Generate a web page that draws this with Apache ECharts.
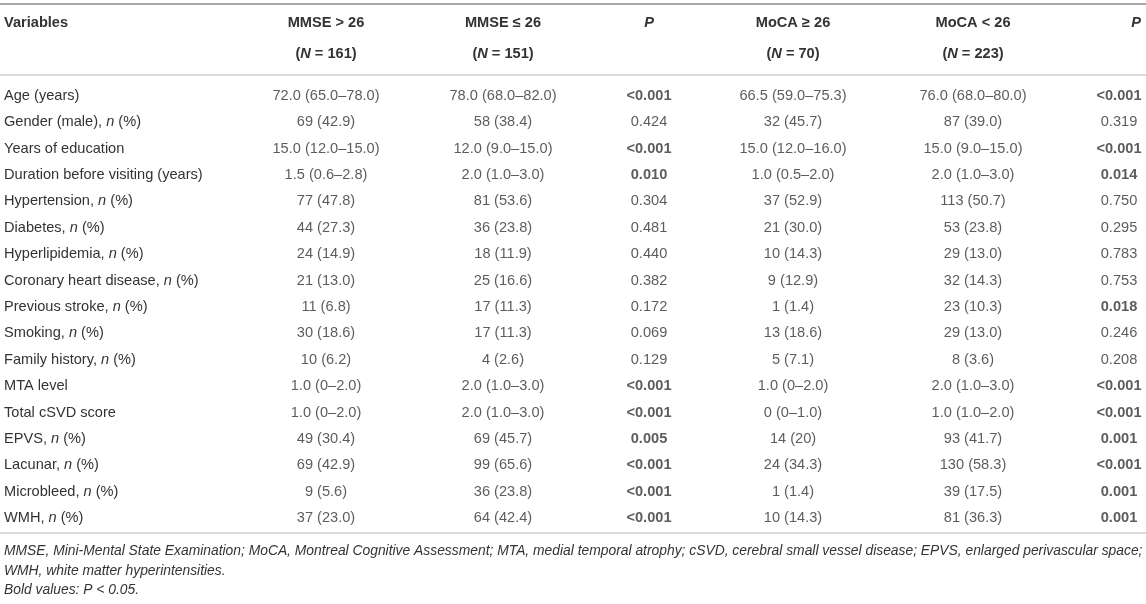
<!DOCTYPE html>
<html>
<head>
<meta charset="utf-8">
<script src="https://cdn.jsdelivr.net/npm/echarts@6/dist/echarts.min.js"></script>
<style>
  html, body { margin: 0; padding: 0; background: #fff; }
  #table { width: 1146px; height: 604px; }
</style>
</head>
<body>
<div id="table"></div>
<script type="text/javascript">
// row labels
var variables = [
  'Age (years)', 'Gender (male), n (%)', 'Years of education', 'Duration before visiting (years)',
  'Hypertension, n (%)', 'Diabetes, n (%)', 'Hyperlipidemia, n (%)', 'Coronary heart disease, n (%)',
  'Previous stroke, n (%)', 'Smoking, n (%)', 'Family history, n (%)', 'MTA level',
  'Total cSVD score', 'EPVS, n (%)', 'Lacunar, n (%)', 'Microbleed, n (%)', 'WMH, n (%)'
];
// column headers
var groupNames = ['MMSE > 26', 'MMSE \u2264 26', 'P', 'MoCA \u2265 26', 'MoCA < 26', 'P'];
var groupN = ['161', '151', '', '70', '223', ''];

var mmseHigh = ['72.0 (65.0–78.0)', '69 (42.9)', '15.0 (12.0–15.0)', '1.5 (0.6–2.8)', '77 (47.8)', '44 (27.3)',
  '24 (14.9)', '21 (13.0)', '11 (6.8)', '30 (18.6)', '10 (6.2)', '1.0 (0–2.0)', '1.0 (0–2.0)',
  '49 (30.4)', '69 (42.9)', '9 (5.6)', '37 (23.0)'];
var mmseLow = ['78.0 (68.0–82.0)', '58 (38.4)', '12.0 (9.0–15.0)', '2.0 (1.0–3.0)', '81 (53.6)', '36 (23.8)',
  '18 (11.9)', '25 (16.6)', '17 (11.3)', '17 (11.3)', '4 (2.6)', '2.0 (1.0–3.0)', '2.0 (1.0–3.0)',
  '69 (45.7)', '99 (65.6)', '36 (23.8)', '64 (42.4)'];
var pMmse = ['<0.001', '0.424', '<0.001', '0.010', '0.304', '0.481', '0.440', '0.382', '0.172',
  '0.069', '0.129', '<0.001', '<0.001', '0.005', '<0.001', '<0.001', '<0.001'];
var mocaHigh = ['66.5 (59.0–75.3)', '32 (45.7)', '15.0 (12.0–16.0)', '1.0 (0.5–2.0)', '37 (52.9)', '21 (30.0)',
  '10 (14.3)', '9 (12.9)', '1 (1.4)', '13 (18.6)', '5 (7.1)', '1.0 (0–2.0)', '0 (0–1.0)',
  '14 (20)', '24 (34.3)', '1 (1.4)', '10 (14.3)'];
var mocaLow = ['76.0 (68.0–80.0)', '87 (39.0)', '15.0 (9.0–15.0)', '2.0 (1.0–3.0)', '113 (50.7)', '53 (23.8)',
  '29 (13.0)', '32 (14.3)', '23 (10.3)', '29 (13.0)', '8 (3.6)', '2.0 (1.0–3.0)', '1.0 (1.0–2.0)',
  '93 (41.7)', '130 (58.3)', '39 (17.5)', '81 (36.3)'];
var pMoca = ['<0.001', '0.319', '<0.001', '0.014', '0.750', '0.295', '0.783', '0.753', '0.018',
  '0.246', '0.208', '<0.001', '<0.001', '0.001', '<0.001', '0.001', '0.001'];

var footnotes = [
  'MMSE, Mini-Mental State Examination; MoCA, Montreal Cognitive Assessment; MTA, medial temporal atrophy; cSVD, cerebral small vessel disease; EPVS, enlarged perivascular space;',
  'WMH, white matter hyperintensities.',
  'Bold values: P < 0.05.'
];

// layout
var colX = [326, 503, 649, 793, 973, 1119];
var FONT = 'Liberation Sans, Arial, Helvetica, sans-serif';
var FS = 14.6;
var INK = '#333';

var columns = [mmseHigh, mmseLow, pMmse, mocaHigh, mocaLow, pMoca];
var isP = [false, false, true, false, false, true];

function significant(p) {
  if (p.charAt(0) === '<') return true;
  return parseFloat(p) < 0.05;
}

var series = columns.map(function (col, k) {
  return {
    type: 'scatter',
    silent: true,
    symbolSize: 1,
    itemStyle: { color: 'transparent' },
    label: {
      show: true,
      position: 'inside',
      formatter: '{b}',
      color: INK,
      fontFamily: FONT,
      fontSize: FS
    },
    data: col.map(function (v, i) {
      var item = { name: v, value: [colX[k], i] };
      if (isP[k] && significant(v)) item.label = { fontWeight: 'bold' };
      return item;
    })
  };
});

var graphics = [];
// rules
[[4, 2, '#a8a8a8'], [75, 1.2, '#b8b8b8'], [533, 1.2, '#b8b8b8']].forEach(function (r) {
  graphics.push({
    type: 'line', silent: true,
    shape: { x1: 0, y1: r[0], x2: 1146, y2: r[0] },
    style: { stroke: r[2], lineWidth: r[1] }
  });
});
// header
graphics.push({
  type: 'text', silent: true, x: 4, y: 23,
  style: { text: 'Variables', font: 'bold ' + FS + 'px ' + FONT, fill: INK, verticalAlign: 'middle', align: 'left' }
});
groupNames.forEach(function (g, k) {
  var pcol = g === 'P';
  graphics.push({
    type: 'text', silent: true, x: pcol && k === 5 ? 1136 : colX[k], y: 23,
    style: {
      text: g, fill: INK, align: 'center', verticalAlign: 'middle',
      font: (pcol ? 'italic ' : '') + 'bold ' + FS + 'px ' + FONT
    }
  });
  if (groupN[k]) {
    graphics.push({
      type: 'text', silent: true, x: colX[k], y: 54,
      style: {
        text: '({i|N} = ' + groupN[k] + ')', fill: INK, align: 'center', verticalAlign: 'middle',
        font: 'bold ' + FS + 'px ' + FONT,
        rich: { i: { fontStyle: 'italic', fontWeight: 'bold', fontSize: FS, fontFamily: FONT, fill: INK } }
      }
    });
  }
});
// footnotes
[551, 571, 590].forEach(function (y, i) {
  graphics.push({
    type: 'text', silent: true, x: 4, y: y,
    style: { text: footnotes[i], fill: INK, align: 'left', verticalAlign: 'middle', font: 'italic 13.85px ' + FONT }
  });
});

var chart = echarts.init(document.getElementById('table'));
chart.setOption({
  animation: false,
  grid: { left: 0, right: 0, top: 82.5, height: 448.8 },
  xAxis: { type: 'value', min: 0, max: 1146, show: false },
  yAxis: {
    type: 'category',
    inverse: true,
    data: variables,
    axisLine: { show: false },
    axisTick: { show: false },
    splitLine: { show: false },
    axisLabel: {
      inside: true,
      margin: 4,
      color: INK,
      fontFamily: FONT,
      fontSize: FS,
      formatter: function (v) {
        return v.replace(', n (%)', ', {i|n} (%)');
      },
      rich: { i: { fontStyle: 'italic', color: INK, fontFamily: FONT, fontSize: FS } }
    }
  },
  graphic: graphics,
  series: series
});
</script>
</body>
</html>
